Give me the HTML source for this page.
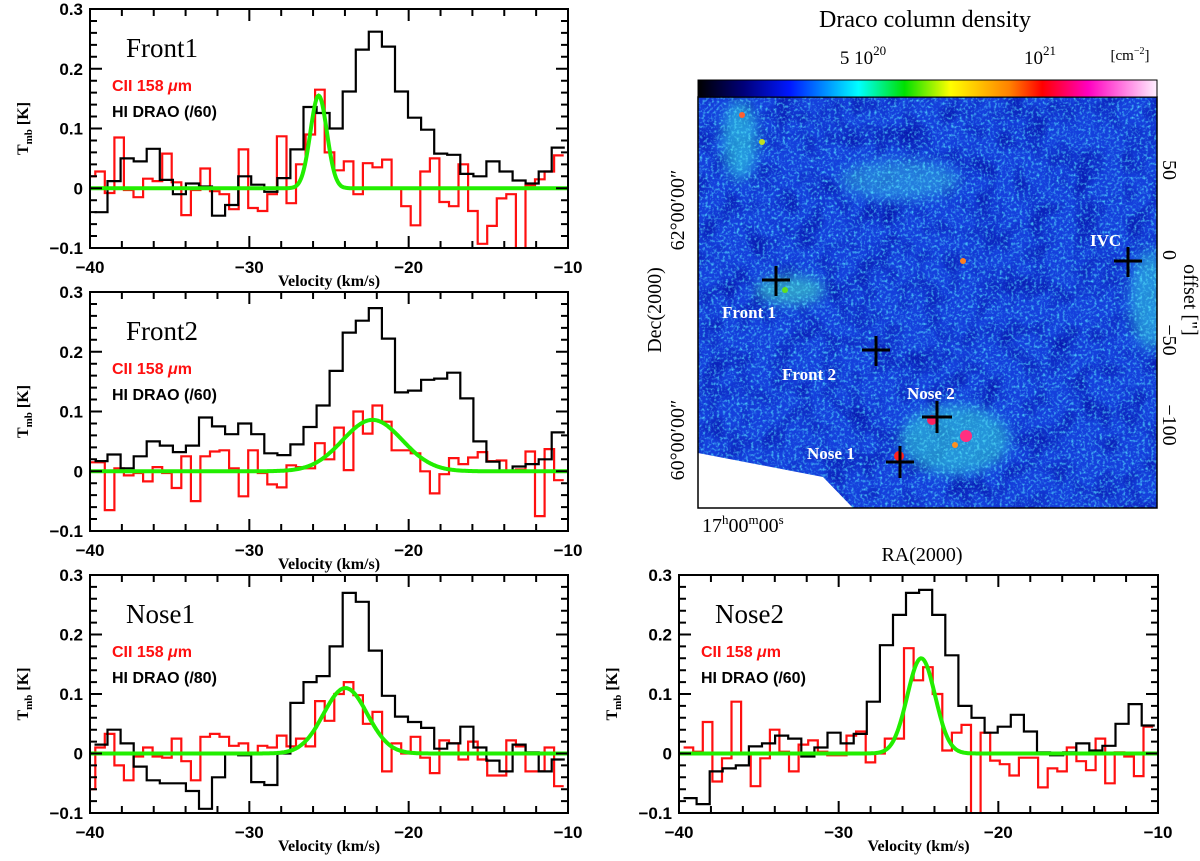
<!DOCTYPE html>
<html><head><meta charset="utf-8"><style>
html,body{margin:0;padding:0;background:#fff;}
svg{display:block;font-family:"Liberation Sans",sans-serif;}
.tk{font-weight:bold;font-size:17px;}
.ttl{font-family:"Liberation Serif",serif;font-size:27px;}
.lab{font-family:"Liberation Serif",serif;font-weight:bold;font-size:16px;}
.map{font-family:"Liberation Serif",serif;}
</style></head><body>
<svg id="fig" width="1200" height="861" viewBox="0 0 1200 861">
<defs>
<linearGradient id="cbar" x1="0" x2="1" y1="0" y2="0">
<stop offset="0" stop-color="#000"/><stop offset="0.1" stop-color="#00007a"/><stop offset="0.2" stop-color="#0018ff"/><stop offset="0.35" stop-color="#00ffff"/><stop offset="0.45" stop-color="#00e000"/><stop offset="0.55" stop-color="#ffff00"/><stop offset="0.68" stop-color="#ff8000"/><stop offset="0.75" stop-color="#ff0000"/><stop offset="0.85" stop-color="#ff00c0"/><stop offset="1" stop-color="#fff0ff"/>
</linearGradient>
<filter id="speck" x="0" y="0" width="100%" height="100%">
<feTurbulence type="fractalNoise" baseFrequency="0.35" numOctaves="2" seed="4"/>
<feColorMatrix type="matrix" values="0 0 0 0 0.1  0 0 0 0 0.85  0 0 0 0 1  2.6 0 0 0 -1.25"/>
</filter>
<filter id="dark" x="0" y="0" width="100%" height="100%">
<feTurbulence type="fractalNoise" baseFrequency="0.04" numOctaves="2" seed="9"/>
<feColorMatrix type="matrix" values="0 0 0 0 0  0 0 0 0 0  0 0 0 0 0.3  2.4 0 0 0 -1.05"/>
</filter>
<filter id="blur3"><feGaussianBlur stdDeviation="6"/></filter>
<clipPath id="mapclip"><rect x="698" y="97" width="459" height="411"/></clipPath>
</defs>
<g id="panels"></g>
<g id="mapg">
  <rect x="698" y="97" width="459" height="411" fill="#1540dc"/>
  <rect x="698" y="97" width="459" height="411" filter="url(#dark)" opacity="0.6"/>
  <g clip-path="url(#mapclip)" filter="url(#blur3)" opacity="0.55">
    <ellipse cx="740" cy="140" rx="18" ry="40" fill="#30e0e0"/>
    <ellipse cx="790" cy="290" rx="35" ry="15" fill="#40e0c0"/>
    <ellipse cx="955" cy="440" rx="55" ry="35" fill="#30d8d8"/>
    <ellipse cx="1150" cy="300" rx="20" ry="50" fill="#30d0e0"/>
    <ellipse cx="900" cy="180" rx="60" ry="20" fill="#30b0e0"/>
  </g>
  <rect x="698" y="97" width="459" height="411" filter="url(#speck)" opacity="0.8"/>
  <g clip-path="url(#mapclip)">
    <circle cx="932" cy="420" r="5" fill="#ff2060"/><circle cx="966" cy="436" r="6" fill="#ff3080"/><circle cx="899" cy="456" r="5" fill="#ff2020"/><circle cx="955" cy="445" r="3" fill="#ff9020"/>
    <circle cx="742" cy="115" r="3" fill="#ff6030"/><circle cx="762" cy="142" r="3" fill="#c0e020"/><circle cx="963" cy="261" r="3" fill="#ff8020"/><circle cx="785" cy="290" r="3" fill="#60e020"/>
    <polygon points="698,453 823,477 853,508 698,508" fill="#fff"/>
  </g>
  <rect x="698" y="97" width="459" height="411" fill="none" stroke="#000" stroke-width="1.5"/>
  <rect x="698" y="80" width="459" height="17" fill="url(#cbar)" stroke="#000" stroke-width="1"/>
  <text class="map" x="925" y="27" font-size="24" text-anchor="middle">Draco column density</text>
  <text class="map" x="863" y="64" font-size="19" text-anchor="middle">5 10<tspan dy="-9" font-size="13">20</tspan></text>
  <text class="map" x="1040" y="64" font-size="19" text-anchor="middle">10<tspan dy="-9" font-size="13">21</tspan></text>
  <text class="map" x="1130" y="60" font-size="15" text-anchor="middle">[cm<tspan dy="-6" font-size="10">−2</tspan><tspan dy="6">]</tspan></text>
  <text class="map" font-size="20" transform="translate(684,210) rotate(-90)" text-anchor="middle">62°00′00″</text>
  <text class="map" font-size="20" transform="translate(684,440) rotate(-90)" text-anchor="middle">60°00′00″</text>
  <text class="map" font-size="20" transform="translate(661,310) rotate(-90)" text-anchor="middle">Dec(2000)</text>
  <text class="map" x="702" y="532" font-size="20">17<tspan dy="-8" font-size="13">h</tspan><tspan dy="8">00</tspan><tspan dy="-8" font-size="13">m</tspan><tspan dy="8">00</tspan><tspan dy="-8" font-size="13">s</tspan></text>
  <text class="map" x="922" y="561" font-size="20" text-anchor="middle">RA(2000)</text>
  <text class="map" font-size="20" transform="translate(1163,170) rotate(90)" text-anchor="middle">50</text>
  <text class="map" font-size="20" transform="translate(1163,255) rotate(90)" text-anchor="middle">0</text>
  <text class="map" font-size="20" transform="translate(1163,340) rotate(90)" text-anchor="middle">−50</text>
  <text class="map" font-size="20" transform="translate(1163,425) rotate(90)" text-anchor="middle">−100</text>
  <text class="map" font-size="20" transform="translate(1184,300) rotate(90)" text-anchor="middle">offset ["]</text>
  <g stroke="#000" stroke-width="3">
    <path d="M762 280h28M776 266v30"/><path d="M862 350h28M876 336v30"/><path d="M922 417h30M937 401v32"/><path d="M886 462h28M900 446v32"/><path d="M1114 261h28M1128 247v30"/>
  </g>
  <g fill="#fff" font-weight="bold" font-size="17" class="map">
    <text x="722" y="318">Front 1</text>
    <text x="782" y="380">Front 2</text>
    <text x="907" y="399">Nose 2</text>
    <text x="807" y="459">Nose 1</text>
    <text x="1090" y="246">IVC</text>
  </g>
</g>
</svg>
<script>
// Front1
const f1HI=[-0.04,0.012,0.05,0.045,0.066,0.014,-0.01,0.008,0.003,-0.046,-0.028,0.02,0.006,-0.006,0.017,0.065,0.136,0.126,0.1,0.162,0.232,0.262,0.237,0.162,0.118,0.098,0.058,0.056,0.024,0.02,0.045,0.028,0.013,0.008,0.028,0.068];
const f1CII=[0.02,0.028,-0.008,0.085,-0.003,-0.015,0.016,0.012,0.058,0.01,-0.045,-0.003,0.033,-0.005,-0.01,-0.035,0.065,-0.033,-0.038,-0.01,0.087,-0.025,0.04,0.09,0.165,0.06,0.03,0.045,-0.01,0.042,0.035,0.048,0.0,-0.03,-0.062,0.028,0.05,-0.023,-0.03,0.04,-0.038,-0.093,-0.063,-0.017,-0.01,-0.12,0.005,0.015,0.028,0.055];
const f1Fit=[0.155,-25.65,0.52];
// Front2
const f2HI=[0.017,0.028,0.005,0.025,0.05,0.043,0.032,0.043,0.09,0.075,0.062,0.08,0.062,0.03,0.027,0.045,0.074,0.11,0.168,0.232,0.252,0.273,0.222,0.132,0.135,0.153,0.155,0.165,0.122,0.05,0.016,0.0,0.008,0.012,0.02,0.065];
const f2CII=[0.015,0.015,-0.065,0.005,-0.007,-0.003,-0.017,0.007,-0.003,-0.028,0.025,-0.05,0.025,0.033,0.035,0.005,-0.042,0.035,-0.003,-0.022,-0.027,0.01,0.007,0.005,0.047,0.02,0.073,0.002,0.1,0.063,0.11,0.083,0.035,0.035,0.03,0.0,-0.037,-0.005,0.022,0.012,0.023,0.032,0.017,0.018,0.0,0.003,0.033,-0.075,0.037,-0.015];
const f2Fit=[0.086,-22.27,1.87];
// Nose1
const n1HI=[0.015,0.04,0.017,-0.022,-0.045,-0.05,-0.05,-0.063,-0.093,-0.04,0.0,-0.003,-0.048,-0.053,0.0,0.085,0.12,0.13,0.18,0.27,0.255,0.173,0.097,0.062,0.053,0.043,0.008,0.017,0.045,0.01,-0.012,-0.03,0.015,0.002,-0.03,-0.01];
const n1CII=[-0.06,0.01,0.033,-0.02,-0.045,-0.005,0.01,-0.005,-0.007,0.025,-0.013,-0.045,0.028,0.033,0.028,0.013,0.017,0.0,0.013,0.01,0.03,0.012,0.025,0.012,0.088,0.055,0.1,0.12,0.098,0.05,0.07,-0.03,0.017,0.0,0.028,-0.007,-0.033,0.022,0.017,-0.01,0.02,-0.01,-0.037,-0.037,0.022,0.012,-0.03,-0.03,0.01,-0.055];
const n1Fit=[0.11,-23.97,1.37];
// Nose2
const n2HI=[-0.075,-0.085,-0.03,-0.025,-0.02,0.012,0.017,0.03,0.025,-0.005,0.01,0.035,0.017,0.033,0.087,0.182,0.233,0.27,0.275,0.233,0.165,0.08,0.06,0.035,0.045,0.065,0.037,0.002,-0.003,0.002,0.017,0.005,0.013,0.05,0.083,0.047];
const n2CII=[0.01,0.003,0.053,-0.047,-0.008,0.087,0.0,-0.055,-0.008,0.04,0.003,-0.03,0.015,0.022,0.003,-0.003,-0.003,0.03,0.037,-0.015,0.0,0.025,0.025,0.177,0.123,0.145,0.1,0.005,0.035,0.048,-0.12,0.035,-0.012,-0.018,-0.037,-0.007,-0.007,-0.057,-0.025,-0.03,0.01,-0.013,-0.028,0.025,-0.05,0.002,-0.005,-0.038,0.045];
const n2Fit=[0.16,-24.83,0.87];
const xTicks=[-40,-30,-20,-10];
const yTicks=[-0.1,0,0.1,0.2,0.3];
const yTickLabels=["−0.1","0","0.1","0.2","0.3"];
const xTickLabels=["−40","−30","−20","−10"];

const NS='http://www.w3.org/2000/svg';
const root=document.getElementById('panels');
function mk(tag,attrs,parent){const e=document.createElementNS(NS,tag);for(const k in attrs)e.setAttribute(k,attrs[k]);parent.appendChild(e);return e;}

const panels=[
 {key:'front1',name:'Front1',x0:90,x1:568,yTop:9,yBot:248,hi:f1HI,hiStart:-39.72,cii:f1CII,ciiStart:-40.27,fit:f1Fit,div:'(/60)'},
 {key:'front2',name:'Front2',x0:90,x1:568,yTop:292,yBot:531,hi:f2HI,hiStart:-39.72,cii:f2CII,ciiStart:-40.27,fit:f2Fit,div:'(/60)'},
 {key:'nose1',name:'Nose1',x0:90,x1:568,yTop:575,yBot:813,hi:n1HI,hiStart:-39.72,cii:n1CII,ciiStart:-40.27,fit:n1Fit,div:'(/80)'},
 {key:'nose2',name:'Nose2',x0:679,x1:1158,yTop:575,yBot:813,hi:n2HI,hiStart:-39.72,cii:n2CII,ciiStart:-39.71,fit:n2Fit,div:'(/60)'}
];
panels.forEach((p,pi)=>{
 const g=mk('g',{},root);
 
 
 const X=v=>p.x0+(v+40)/30*(p.x1-p.x0);
 const Y=t=>p.yBot-(t+0.1)/0.4*(p.yBot-p.yTop);
 const cid='clip'+pi;
 const cp=mk('clipPath',{id:cid},g);mk('rect',{x:p.x0,y:p.yTop,width:p.x1-p.x0,height:p.yBot-p.yTop},cp);
 const dg=mk('g',{'clip-path':'url(#'+cid+')'},g);
 function steps(vals,start,w){
   let d='';vals.forEach((v,i)=>{const xa=X(Math.max(start+i*w,-40)),xb=X(start+(i+1)*w),y=Y(v);d+=(i===0?'M':'L')+xa.toFixed(1)+' '+y.toFixed(1)+'L'+xb.toFixed(1)+' '+y.toFixed(1);});return d;
 }
 const red=mk('path',{d:steps(p.cii,p.ciiStart,0.6),fill:'none',stroke:'#ff1010','stroke-width':2.2},dg);
 
 
 const blk=mk('path',{d:steps(p.hi,p.hiStart,0.82),fill:'none',stroke:'#000','stroke-width':2.2},dg);
 
 
 let gd='';for(let v=-40;v<=-10.0001+0.05;v+=0.05){const t=p.fit[0]*Math.exp(-0.5*Math.pow((v-p.fit[1])/p.fit[2],2));gd+=(gd?'L':'M')+X(v).toFixed(1)+' '+Y(t).toFixed(1);}
 const gr=mk('path',{d:gd,fill:'none',stroke:'#22ee00','stroke-width':4},dg);
 
 
 const ax=mk('g',{stroke:'#000','stroke-width':2,fill:'none'},g);
 
 
 mk('rect',{x:p.x0,y:p.yTop,width:p.x1-p.x0,height:p.yBot-p.yTop},ax);
 let td='';
 for(let v=-38;v<-10;v+=2){const L=(v%10===0)?12:7;const x=X(v);td+='M'+x+' '+p.yBot+'v'+(-L)+'M'+x+' '+p.yTop+'v'+L;}
 for(let k=-4;k<=14;k++){const t=k*0.02;const L=(k%5===0)?12:7;const y=Y(t);td+='M'+p.x0+' '+y+'h'+L+'M'+p.x1+' '+y+'h'+(-L);}
 mk('path',{d:td},ax);
 xTicks.forEach((v,i)=>{const t=mk('text',{x:X(v),y:p.yBot+25,'text-anchor':'middle',class:'tk'},g);t.textContent=xTickLabels[i];
   
   });
 yTicks.forEach((v,i)=>{const t=mk('text',{x:p.x0-7,y:Y(v)+6,'text-anchor':'end',class:'tk'},g);t.textContent=yTickLabels[i];
   
   });
 const xl=mk('text',{x:(p.x0+p.x1)/2,y:p.yBot+38,'text-anchor':'middle',class:'lab'},g);xl.textContent='Velocity (km/s)';
 
 
 const yl=mk('text',{transform:'translate('+(p.x0-62)+','+Y(0.1)+') rotate(-90)','text-anchor':'middle',class:'lab'},g);
 yl.innerHTML='T<tspan dy="4" font-size="11">mb</tspan><tspan dy="-4"> [K]</tspan>';
 
 
 const tt=mk('text',{x:p.x0+36,y:p.yTop+48,class:'ttl'},g);tt.textContent=p.name;
 
 
 const l1=mk('text',{x:p.x0+22,y:p.yTop+82,fill:'#ff1010','font-weight':'bold','font-size':'16'},g);l1.innerHTML='CII 158 <tspan font-style="italic">μ</tspan>m';
 
 
 const l2=mk('text',{x:p.x0+22,y:p.yTop+108,fill:'#000','font-weight':'bold','font-size':'16'},g);l2.textContent='HI DRAO '+p.div;
 
 
});
</script>
</body></html>
